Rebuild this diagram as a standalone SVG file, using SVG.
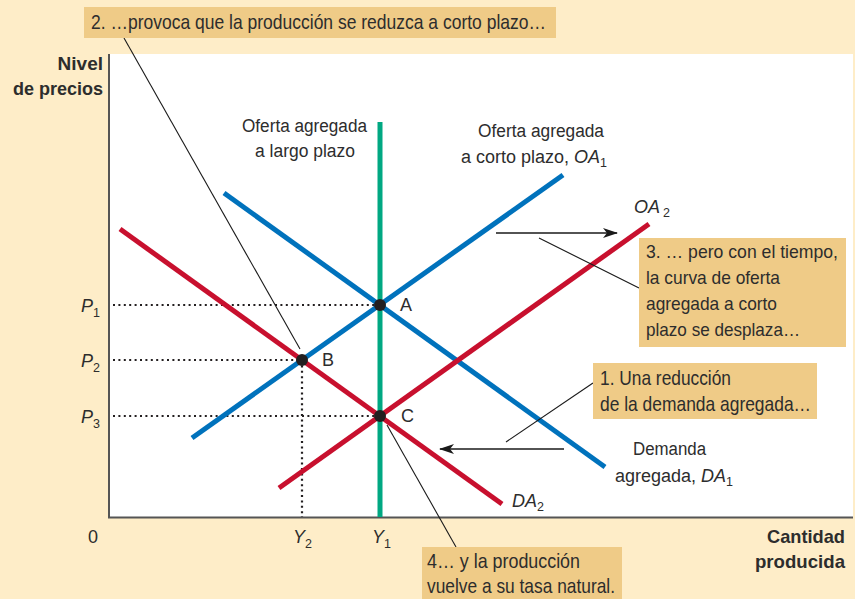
<svg xmlns="http://www.w3.org/2000/svg" width="855" height="599" viewBox="0 0 855 599">
  <style>
    text { font-family: "Liberation Sans", Arial, sans-serif; fill: #2d2d2d; }
    .lab { font-size: 18px; }
    .box { font-size: 21px; }
    .box3 { font-size: 19px; }
    .ax { font-size: 19px; font-weight: bold; }
    .it { font-style: italic; }
    .sub { font-size: 12.5px; }
    .curve { fill: none; stroke-width: 5; stroke-linecap: butt; }
    .blue { stroke: #0072BC; }
    .red { stroke: #C8102E; }
    .green { stroke: #00A882; }
    .dot { stroke: #231F20; stroke-width: 2.2; stroke-dasharray: 2 3.4; fill: none; }
    .lead { stroke: #1a1a1a; stroke-width: 1.1; fill: none; }
    .arr { stroke: #1a1a1a; stroke-width: 1.6; fill: none; }
    .bx { fill: #EFCB87; }
    .pt { fill: #231F20; }
  </style>
  <defs>
    <marker id="ah" markerWidth="16" markerHeight="10" refX="14" refY="5" orient="auto" markerUnits="userSpaceOnUse">
      <path d="M0,0 L15,5 L0,10 L4,5 Z" fill="#1a1a1a"/>
    </marker>
  </defs>

  <rect x="0" y="0" width="855" height="599" fill="#FEEDC8"/>
  <rect id="plot" x="109" y="54" width="744" height="464" fill="#FFFFFF"/>

  <g id="axes">
    <line x1="109" y1="54" x2="109" y2="518" stroke="#555" stroke-width="2"/>
    <line x1="108" y1="517.5" x2="853" y2="517.5" stroke="#555" stroke-width="2"/>
    <text class="ax" x="103" y="70" text-anchor="end">Nivel</text>
    <text class="ax" x="103" y="95" text-anchor="end" textLength="90" lengthAdjust="spacingAndGlyphs">de precios</text>
    <text class="ax" x="845" y="543" text-anchor="end" textLength="78" lengthAdjust="spacingAndGlyphs">Cantidad</text>
    <text class="ax" x="845" y="568" text-anchor="end" textLength="90" lengthAdjust="spacingAndGlyphs">producida</text>
    <text class="lab" x="88" y="543">0</text>
    <text class="lab" x="293" y="543"><tspan class="it">Y</tspan><tspan class="sub" dy="5">2</tspan></text>
    <text class="lab" x="372" y="543"><tspan class="it">Y</tspan><tspan class="sub" dy="5">1</tspan></text>
    <text class="lab" x="81" y="312"><tspan class="it">P</tspan><tspan class="sub" dy="5">1</tspan></text>
    <text class="lab" x="81" y="367"><tspan class="it">P</tspan><tspan class="sub" dy="5">2</tspan></text>
    <text class="lab" x="81" y="423"><tspan class="it">P</tspan><tspan class="sub" dy="5">3</tspan></text>
  </g>

  <g id="guides">
    <line class="dot" x1="113" y1="305" x2="380" y2="305"/>
    <line class="dot" x1="113" y1="360" x2="302" y2="360"/>
    <line class="dot" x1="113" y1="416" x2="380" y2="416"/>
    <line class="dot" x1="302" y1="360" x2="302" y2="517"/>
  </g>

  <g id="curves">
    <line id="LRAS" class="curve green" x1="380" y1="122" x2="380" y2="517"/>
    <line id="OA1" class="curve blue" x1="192" y1="438" x2="563" y2="175"/>
    <line id="DA1" class="curve blue" x1="224" y1="193" x2="605" y2="467"/>
    <line id="DA2" class="curve red" x1="120" y1="229" x2="502" y2="504"/>
    <line id="OA2" class="curve red" x1="279" y1="488" x2="649" y2="224"/>
  </g>

  <g id="curve-labels">
    <text class="lab" x="242" y="132" textLength="125" lengthAdjust="spacingAndGlyphs">Oferta agregada</text>
    <text class="lab" x="255" y="157" textLength="100" lengthAdjust="spacingAndGlyphs">a largo plazo</text>
    <text class="lab" x="478" y="137" textLength="126" lengthAdjust="spacingAndGlyphs">Oferta agregada</text>
    <text class="lab" x="461" y="163">a corto plazo, <tspan class="it">OA</tspan><tspan class="sub" dy="4">1</tspan></text>
    <text class="lab" x="634" y="213"><tspan class="it">OA</tspan><tspan class="sub" dx="3" dy="4">2</tspan></text>
    <text class="lab" x="633" y="455" textLength="73" lengthAdjust="spacingAndGlyphs">Demanda</text>
    <text class="lab" x="615" y="482">agregada, <tspan class="it">DA</tspan><tspan class="sub" dy="4">1</tspan></text>
    <text class="lab" x="512" y="507"><tspan class="it">DA</tspan><tspan class="sub" dy="4">2</tspan></text>
  </g>

  <g id="points">
    <g id="A"><circle class="pt" cx="380" cy="305" r="6"/><text class="lab" x="400" y="311">A</text></g>
    <g id="B"><circle class="pt" cx="302" cy="360" r="6"/><text class="lab" x="322" y="366">B</text></g>
    <g id="C"><circle class="pt" cx="380" cy="416" r="6"/><text class="lab" x="401" y="422">C</text></g>
  </g>

  <g id="connectors">
    <line class="arr" x1="496" y1="233" x2="617" y2="233" marker-end="url(#ah)"/>
    <line class="arr" x1="564" y1="449" x2="440" y2="449" marker-end="url(#ah)"/>
    <line class="lead" x1="124" y1="38" x2="300" y2="349"/>
    <line class="lead" x1="539" y1="238" x2="639" y2="288"/>
    <line class="lead" x1="506" y1="442" x2="593" y2="383"/>
    <line class="lead" x1="387" y1="425" x2="456" y2="547"/>
  </g>

  <g id="note2">
    <rect class="bx" x="84" y="7" width="472" height="31"/>
    <text class="box" x="91" y="29" textLength="455" lengthAdjust="spacingAndGlyphs">2. …provoca que la producción se reduzca a corto plazo…</text>
  </g>
  <g id="note3">
    <rect class="bx" x="639" y="238" width="207" height="109"/>
    <text class="box3" x="646" y="258" textLength="192" lengthAdjust="spacingAndGlyphs">3. … pero con el tiempo,</text>
    <text class="box3" x="646" y="284" textLength="134" lengthAdjust="spacingAndGlyphs">la curva de oferta</text>
    <text class="box3" x="646" y="310" textLength="131" lengthAdjust="spacingAndGlyphs">agregada a corto</text>
    <text class="box3" x="646" y="336" textLength="154" lengthAdjust="spacingAndGlyphs">plazo se desplaza…</text>
  </g>
  <g id="note1">
    <rect class="bx" x="593" y="363" width="224" height="56"/>
    <text class="box" x="600" y="385" textLength="131" lengthAdjust="spacingAndGlyphs">1. Una reducción</text>
    <text class="box" x="600" y="411" textLength="211" lengthAdjust="spacingAndGlyphs">de la demanda agregada…</text>
  </g>
  <g id="note4">
    <rect class="bx" x="422" y="547" width="200" height="52"/>
    <text class="box" x="427" y="568" textLength="153" lengthAdjust="spacingAndGlyphs">4… y la producción</text>
    <text class="box" x="427" y="593" textLength="188" lengthAdjust="spacingAndGlyphs">vuelve a su tasa natural.</text>
  </g>
</svg>
